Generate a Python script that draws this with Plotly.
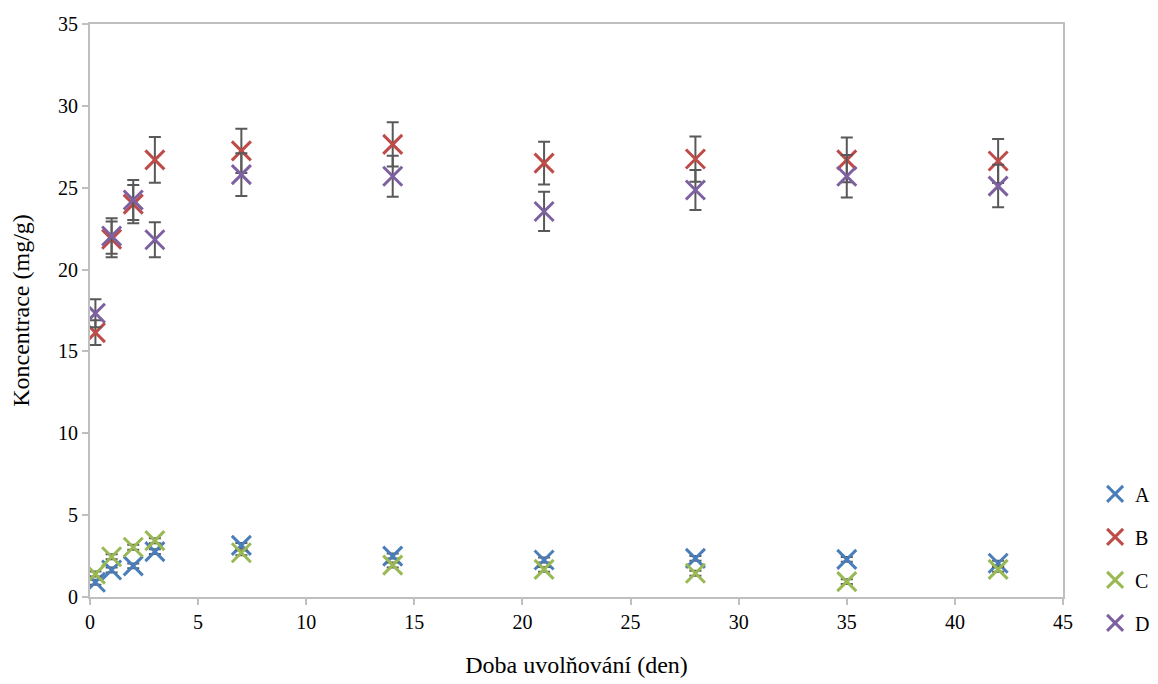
import plotly.graph_objects as go

days = [0.25, 1, 2, 3, 7, 14, 21, 28, 35, 42]

A = [0.9, 1.65, 1.9, 2.77, 3.15, 2.5, 2.26, 2.36, 2.3, 2.06]
A_err = [0.15, 0.15, 0.15, 0.15, 0.15, 0.15, 0.15, 0.15, 0.15, 0.15]
B = [16.15, 21.85, 24.0, 26.7, 27.25, 27.65, 26.5, 26.75, 26.7, 26.63]
B_err = [0.75, 1.09, 1.17, 1.4, 1.35, 1.35, 1.3, 1.38, 1.36, 1.34]
C = [1.4, 2.46, 3.04, 3.44, 2.7, 1.95, 1.69, 1.45, 0.94, 1.69]
C_err = [0.15, 0.15, 0.15, 0.15, 0.15, 0.15, 0.15, 0.15, 0.15, 0.15]
D = [17.33, 22.05, 24.25, 21.82, 25.8, 25.7, 23.55, 24.86, 25.7, 25.1]
D_err = [0.86, 1.09, 1.22, 1.07, 1.3, 1.25, 1.2, 1.22, 1.3, 1.3]

series = [
    ("A", A, A_err, "#4A7EBB"),
    ("B", B, B_err, "#BE4B48"),
    ("C", C, C_err, "#98B954"),
    ("D", D, D_err, "#7D60A0"),
]

font_family = "Liberation Serif, Times New Roman, serif"

fig = go.Figure()
for name, vals, errs, col in series:
    fig.add_trace(go.Scatter(
        x=days, y=vals, name=name, mode="markers",
        legendgroup=name,
        marker=dict(symbol="x-thin", size=19, color=col,
                    line=dict(width=3, color=col)),
        error_y=dict(type="data", array=errs, visible=True,
                     color="#595959", thickness=2, width=6),
    ))

fig.update_layout(
    width=1150, height=676,
    margin=dict(l=82, r=95, t=16, b=87, autoexpand=False),
    plot_bgcolor="white", paper_bgcolor="white",
    font=dict(family=font_family, size=20, color="black"),
    legend=dict(x=1.033, y=0.214, xanchor="left", yanchor="top",
                font=dict(size=20), tracegroupgap=14,
                itemwidth=30, bgcolor="rgba(0,0,0,0)"),
    xaxis=dict(
        range=[0, 45], dtick=5, showgrid=False, zeroline=False,
        showline=True, linecolor="#BFBFBF", linewidth=2, mirror=True,
        ticks="outside", ticklen=6, tickcolor="#BFBFBF", tickwidth=2,
        automargin=False,
        title=dict(text="Doba uvolňování (den)", font=dict(size=24), standoff=24),
    ),
    yaxis=dict(
        range=[0, 35], dtick=5, showgrid=False, zeroline=False,
        showline=True, linecolor="#BFBFBF", linewidth=2, mirror=True,
        ticks="outside", ticklen=6, tickcolor="#BFBFBF", tickwidth=2,
        automargin=False,
        title=dict(text="Koncentrace (mg/g)", font=dict(size=24), standoff=24),
    ),
)

fig.write_html("out.html")
